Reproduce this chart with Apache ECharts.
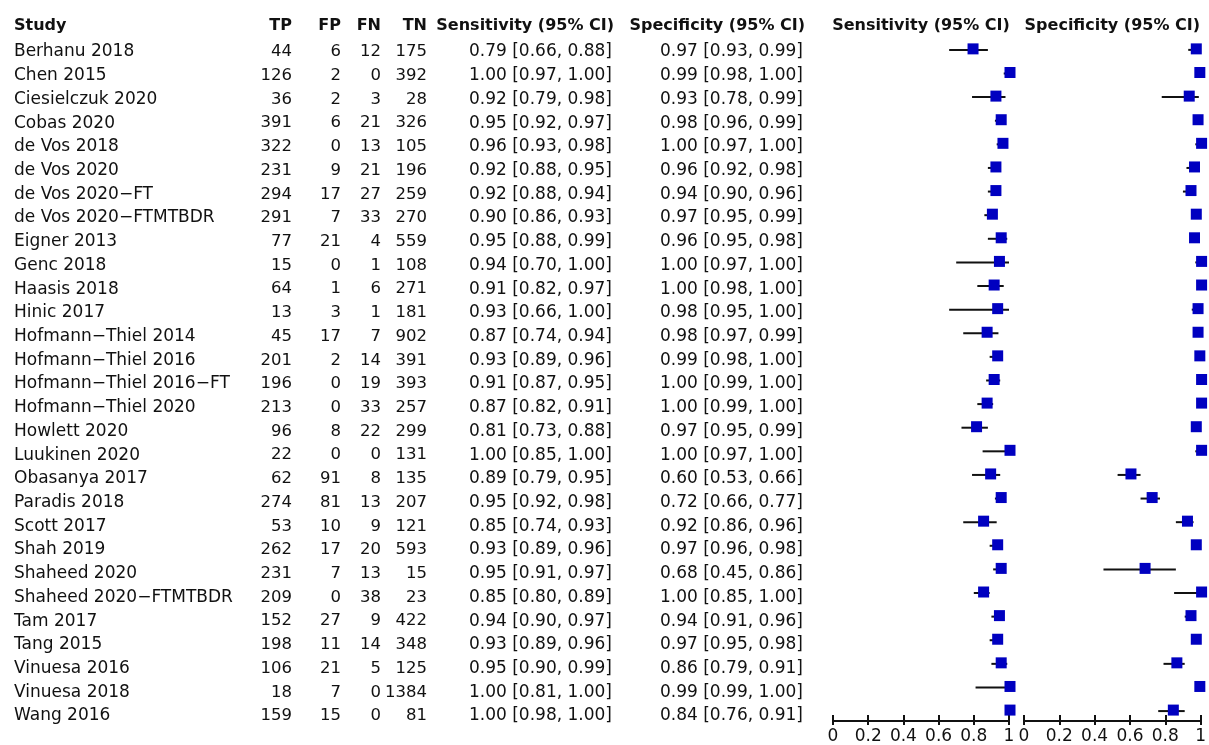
<!DOCTYPE html>
<html><head><meta charset="utf-8">
<script src="https://cdn.jsdelivr.net/npm/echarts@6/dist/echarts.min.js"></script>
<style>html,body{margin:0;padding:0;background:#fff}#c{width:1209px;height:745px}</style>
</head><body><div id="c"></div>
<script>
const studies = ["Berhanu 2018","Chen 2015","Ciesielczuk 2020","Cobas 2020","de Vos 2018","de Vos 2020","de Vos 2020\u2212FT","de Vos 2020\u2212FTMTBDR","Eigner 2013","Genc 2018","Haasis 2018","Hinic 2017","Hofmann\u2212Thiel 2014","Hofmann\u2212Thiel 2016","Hofmann\u2212Thiel 2016\u2212FT","Hofmann\u2212Thiel 2020","Howlett 2020","Luukinen 2020","Obasanya 2017","Paradis 2018","Scott 2017","Shah 2019","Shaheed 2020","Shaheed 2020\u2212FTMTBDR","Tam 2017","Tang 2015","Vinuesa 2016","Vinuesa 2018","Wang 2016"];
const TP = [44,126,36,391,322,231,294,291,77,15,64,13,45,201,196,213,96,22,62,274,53,262,231,209,152,198,106,18,159];
const FP = [6,2,2,6,0,9,17,7,21,0,1,3,17,2,0,0,8,0,91,81,10,17,7,0,27,11,21,7,15];
const FN = [12,0,3,21,13,21,27,33,4,1,6,1,7,14,19,33,22,0,8,13,9,20,13,38,9,14,5,0,0];
const TN = [175,392,28,326,105,196,259,270,559,108,271,181,902,391,393,257,299,131,135,207,121,593,15,23,422,348,125,1384,81];
const sens   = [0.79,1.00,0.92,0.95,0.96,0.92,0.92,0.90,0.95,0.94,0.91,0.93,0.87,0.93,0.91,0.87,0.81,1.00,0.89,0.95,0.85,0.93,0.95,0.85,0.94,0.93,0.95,1.00,1.00];
const sensLo = [0.66,0.97,0.79,0.92,0.93,0.88,0.88,0.86,0.88,0.70,0.82,0.66,0.74,0.89,0.87,0.82,0.73,0.85,0.79,0.92,0.74,0.89,0.91,0.80,0.90,0.89,0.90,0.81,0.98];
const sensHi = [0.88,1.00,0.98,0.97,0.98,0.95,0.94,0.93,0.99,1.00,0.97,1.00,0.94,0.96,0.95,0.91,0.88,1.00,0.95,0.98,0.93,0.96,0.97,0.89,0.97,0.96,0.99,1.00,1.00];
const spec   = [0.97,0.99,0.93,0.98,1.00,0.96,0.94,0.97,0.96,1.00,1.00,0.98,0.98,0.99,1.00,1.00,0.97,1.00,0.60,0.72,0.92,0.97,0.68,1.00,0.94,0.97,0.86,0.99,0.84];
const specLo = [0.93,0.98,0.78,0.96,0.97,0.92,0.90,0.95,0.95,0.97,0.98,0.95,0.97,0.98,0.99,0.99,0.95,0.97,0.53,0.66,0.86,0.96,0.45,0.85,0.91,0.95,0.79,0.99,0.76];
const specHi = [0.99,1.00,0.99,0.99,1.00,0.98,0.96,0.99,0.98,1.00,1.00,1.00,0.99,1.00,1.00,1.00,0.99,1.00,0.66,0.77,0.96,0.98,0.86,1.00,0.96,0.98,0.91,1.00,0.91];
const tickLabels = ["0","0.2","0.4","0.6","0.8","1"];
const headers = ["Study","TP","FP","FN","TN","Sensitivity (95% CI)","Specificity (95% CI)"];
const plotTitles = ["Sensitivity (95% CI)","Specificity (95% CI)"];

const FONT = '"DejaVu Sans", sans-serif';
const FS = 17;
const TXT = '#111';
const BLUE = '#0000c0';
const ROWMIN = -1.1, ROWMAX = 28.42;
const gridTop = 23.9, gridBottom = 21;
const TY = 2; // text baseline nudge
// column anchors (layout): [x, align, fontSize]
const cols = [[14,'left',17],[292,'right',16.5],[341,'right',16.5],[381,'right',16.5],[427,'right',16.5],[612,'right',17],[803,'right',17]];
const ci = (p,l,h) => p.toFixed(2) + ' [' + l.toFixed(2) + ', ' + h.toFixed(2) + ']';

const tableData = studies.map((s,i)=>[i]);
function renderTable(params, api){
  const i = api.value(0);
  const y = api.coord([0,i])[1] + TY;
  const vals = [studies[i], String(TP[i]), String(FP[i]), String(FN[i]), String(TN[i]), ci(sens[i],sensLo[i],sensHi[i]), ci(spec[i],specLo[i],specHi[i])];
  const children = vals.map((v,k)=>({type:'text', style:{text:v, x:api.coord([cols[k][0],0])[0], y:y, align:cols[k][1], verticalAlign:'middle', font:cols[k][2]+'px '+FONT, fill:TXT}}));
  if (i === 0) {
    const yh = api.coord([0,ROWMIN])[1] + TY;
    headers.forEach((h,k)=>{
      children.push({type:'text', style:{text:h, x:api.coord([cols[k][0],0])[0] + (k>=5?2:0), y:yh, align:cols[k][1], verticalAlign:'middle', font:'bold 16px '+FONT, fill:TXT}});
    });
  }
  return {type:'group', children};
}
function makeForest(p, lo, hi){
  return function(params, api){
    const i = api.value(0);
    const a = api.coord([lo[i], i]);
    const b = api.coord([hi[i], i]);
    const c = api.coord([p[i], i]);
    const s = 11;
    return {type:'group', children:[
      {type:'line', shape:{x1:a[0],y1:a[1],x2:b[0],y2:b[1]}, style:{stroke:'#111', lineWidth:2}},
      {type:'rect', shape:{x:c[0]-s/2+1, y:c[1]-s/2-1, width:s, height:s}, style:{fill:BLUE}}
    ]};
  };
}
const chart = echarts.init(document.getElementById('c'), null, {renderer:'canvas'});
const yAx = (g)=>({type:'value', gridIndex:g, inverse:true, min:ROWMIN, max:ROWMAX, show:false});
const xAxInside = (g)=>({type:'value', gridIndex:g, min:0, max:1, interval:0.2, position:'bottom',
  axisLine:{show:true, onZero:false, lineStyle:{color:'#111', width:2}}, axisTick:{show:true, inside:true, length:6, lineStyle:{color:'#111', width:2}},
  axisLabel:{show:false}, splitLine:{show:false}});
const xAxOutside = (g)=>({type:'value', gridIndex:g, min:0, max:1, interval:0.2, position:'bottom',
  axisLine:{show:false, onZero:false}, axisTick:{show:true, inside:false, length:4, lineStyle:{color:'#111', width:2}},
  axisLabel:{show:true, color:TXT, fontFamily:FONT, fontSize:FS, margin:7, formatter:(v)=>tickLabels[Math.round(v*5)]}, splitLine:{show:false}});
chart.setOption({
  animation:false,
  backgroundColor:'#fff',
  grid:[
    {left:0, right:0, top:gridTop, bottom:gridBottom},
    {left:833, width:176, top:gridTop, bottom:gridBottom},
    {left:1024, width:177, top:gridTop, bottom:gridBottom}
  ],
  xAxis:[
    {type:'value', gridIndex:0, min:0, max:1209, show:false},
    xAxInside(1), xAxOutside(1), xAxInside(2), xAxOutside(2)
  ],
  yAxis:[yAx(0), yAx(1), yAx(2)],
  series:[
    {type:'custom', xAxisIndex:0, yAxisIndex:0, data:tableData, renderItem:renderTable, silent:true},
    {type:'custom', xAxisIndex:1, yAxisIndex:1, data:tableData, renderItem:makeForest(sens,sensLo,sensHi), silent:true},
    {type:'custom', xAxisIndex:3, yAxisIndex:2, data:tableData, renderItem:makeForest(spec,specLo,specHi), silent:true}
  ]
});
// forest titles centred over their panels (via axis pixel mapping)
const t1 = chart.convertToPixel({xAxisIndex:1}, 0.5);
const t2 = chart.convertToPixel({xAxisIndex:3}, 0.5);
const ty = chart.convertToPixel({yAxisIndex:1}, ROWMIN) + TY;
chart.setOption({graphic:[
  {type:'text', id:'t1', x:t1, y:ty, style:{text:plotTitles[0], font:'bold 16px '+FONT, fill:TXT, align:'center', verticalAlign:'middle'}},
  {type:'text', id:'t2', x:t2, y:ty, style:{text:plotTitles[1], font:'bold 16px '+FONT, fill:TXT, align:'center', verticalAlign:'middle'}}
]});
</script></body></html>
